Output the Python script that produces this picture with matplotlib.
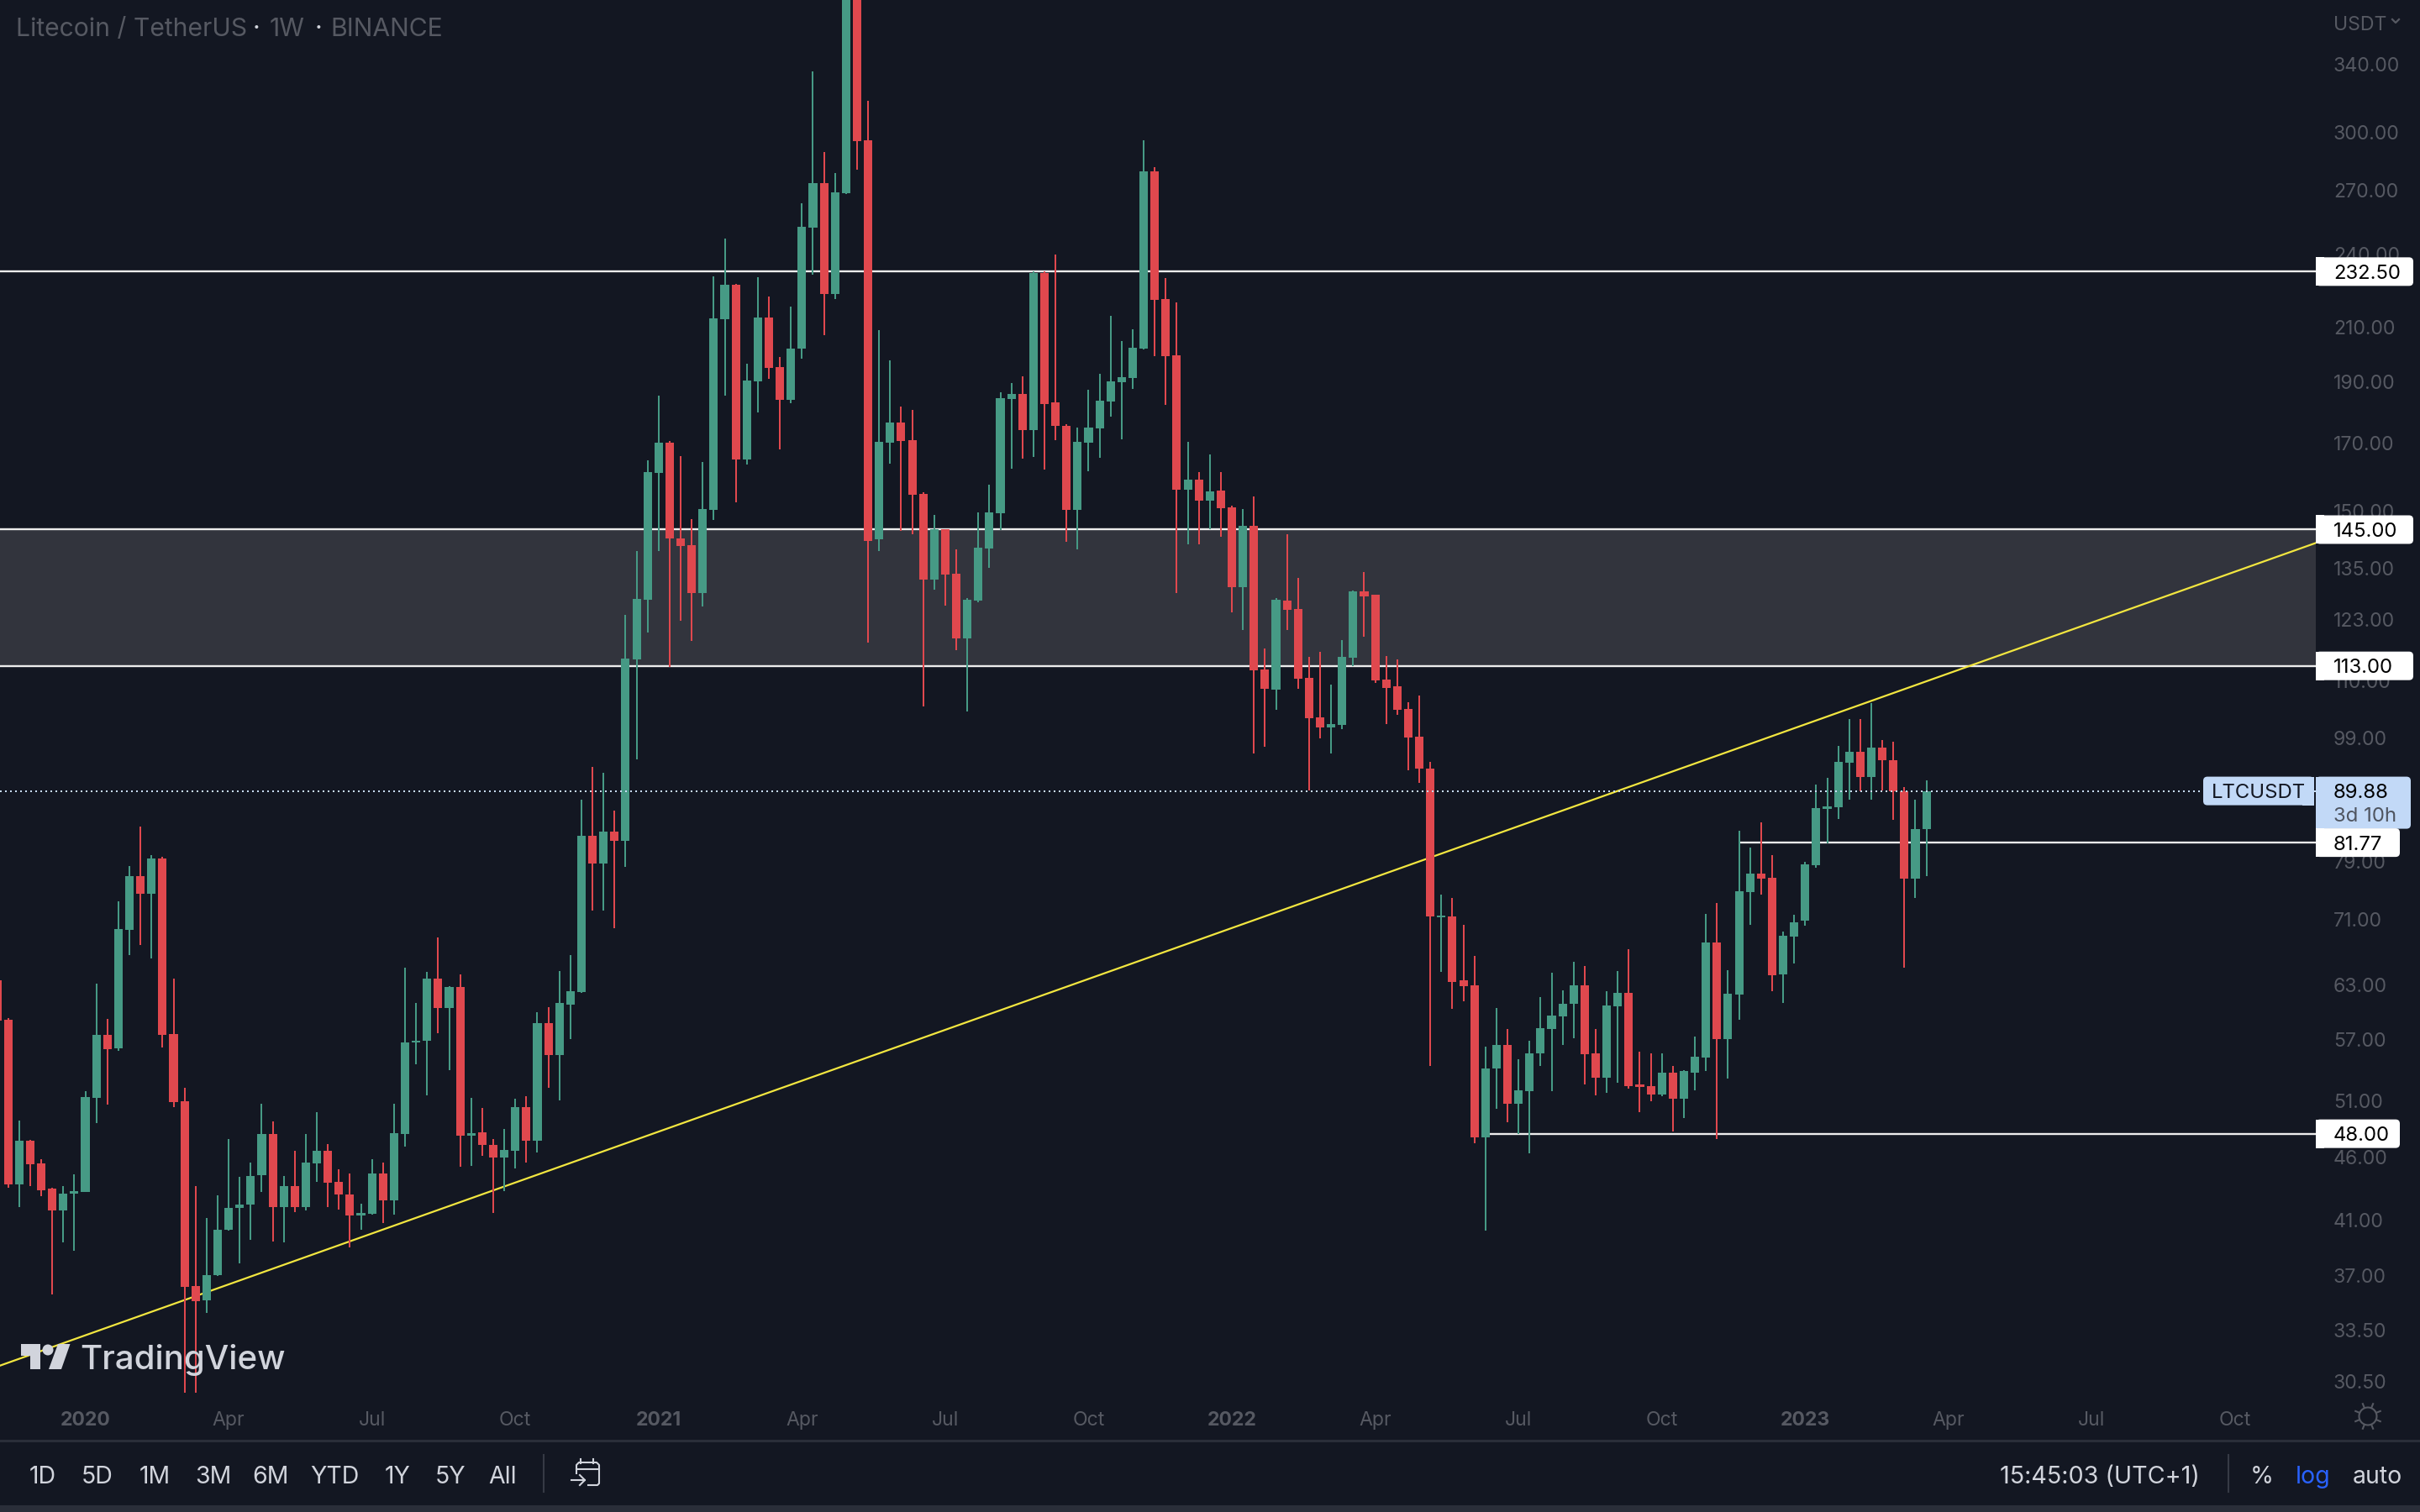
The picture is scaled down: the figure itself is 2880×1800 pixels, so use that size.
import numpy as np
import matplotlib
matplotlib.use("Agg")
import matplotlib.pyplot as plt
from matplotlib.patches import Rectangle, FancyBboxPatch, Polygon, Circle

plt.rcParams['font.family'] = ['Inter', 'DejaVu Sans']

# weekly candles, LTCUSDT
opens = [63.56, 59.15, 43.74, 47.38, 45.45, 43.43, 41.73, 42.99, 43.15, 51.28,
         57.51, 56.13, 69.74, 76.92, 74.48, 79.43, 57.60, 50.92, 36.34, 35.36,
         37.04, 40.25, 41.88, 42.14, 44.47, 47.98, 41.95, 43.60, 41.99, 45.49,
         46.55, 43.95, 42.96, 41.30, 41.48, 44.64, 42.52, 47.94, 56.71, 56.88,
         63.77, 60.46, 62.83, 47.80, 48.13, 47.06, 45.92, 46.55, 50.41, 47.42,
         58.79, 55.47, 60.78, 62.18, 82.8, 78.7, 83.4, 82.0, 114.4, 127.5,
         160.9, 170.0, 142.7, 140.9, 129.1, 150.3, 213.0, 226.8, 164.9, 190.1,
         213.7, 195.2, 184.0, 201.9, 251.8, 273.3, 223.3, 268.3, 395, 295.6,
         142.4, 170.0, 176.3, 170.7, 154.8, 132.3, 145.0, 133.7, 118.8, 127.4,
         140.0, 149.3, 184.2, 185.8, 173.9, 231.8, 183.1, 175.4, 150.4, 170.0,
         174.5, 183.3, 189.9, 191.4, 201.8, 279.3, 221.1, 199.5, 156.0, 159.0,
         153.0, 155.7, 151.1, 130.5, 145.9, 112.3, 108.2, 127.4, 125.4, 110.5,
         102.9, 100.9, 101.5, 114.7, 129.5, 128.7, 110.2, 108.8, 104.5, 99.3,
         93.6, 71.3, 71.45, 63.6, 63.0, 47.7, 54.1, 56.5, 50.7, 51.9,
         55.6, 58.1, 59.5, 60.9, 63.0, 55.6, 53.2, 60.6, 62.1, 52.5,
         52.4, 51.6, 53.7, 51.2, 53.7, 55.2, 68.1, 57.1, 61.9, 74.7,
         77.3, 76.7, 64.2, 68.9, 70.9, 78.5, 87.0, 87.3, 94.7, 96.5,
         92.2, 97.3, 95.1, 89.88, 76.5, 83.8]
highs = [64.0, 59.29, 49.20, 47.45, 45.81, 43.50, 43.64, 44.54, 51.89, 63.17,
         59.25, 73.44, 78.32, 84.18, 79.93, 79.68, 63.77, 52.21, 43.60, 41.14,
         42.89, 47.53, 44.36, 45.52, 50.72, 49.09, 44.43, 46.55, 47.98, 49.94,
         47.09, 44.99, 44.64, 42.25, 45.81, 45.52, 50.72, 65.04, 60.98, 64.53,
         68.76, 62.91, 64.22, 51.24, 50.33, 47.53, 48.44, 51.16, 51.40, 59.94,
         60.51, 64.63, 66.53, 88.43, 93.9, 92.9, 86.7, 124.0, 139.4, 164.7,
         185.3, 170.5, 165.9, 147.9, 164.2, 230.5, 246.9, 227.2, 196.4, 230.2,
         222.3, 198.9, 218.0, 263.6, 335.5, 289.4, 278.4, 415, 402, 317.9,
         208.9, 197.5, 181.7, 180.6, 155.3, 148.9, 145.0, 139.9, 128.0, 149.6,
         157.4, 186.4, 189.6, 192.0, 232.5, 232.5, 239.9, 175.8, 174.8, 187.3,
         192.9, 214.4, 204.8, 209.3, 295.8, 281.4, 229.9, 219.8, 170.2, 161.1,
         166.5, 161.1, 151.5, 150.6, 154.0, 116.6, 127.9, 143.7, 132.7, 114.9,
         116.0, 109.2, 118.5, 129.7, 134.2, 128.7, 115.0, 114.3, 105.8, 107.1,
         94.8, 74.3, 73.85, 70.3, 66.5, 56.3, 60.4, 58.1, 55.0, 56.9,
         61.6, 64.4, 62.4, 65.7, 65.2, 58.1, 62.3, 64.6, 67.3, 55.8,
         55.6, 55.6, 54.3, 53.9, 57.3, 71.8, 73.2, 64.7, 83.6, 81.0,
         84.8, 79.9, 69.5, 71.7, 79.0, 91.0, 92.0, 97.6, 102.5, 102.5,
         105.5, 98.7, 98.3, 90.5, 88.5, 91.7]
lows = [58.8, 43.47, 41.99, 43.64, 42.79, 35.76, 39.32, 38.73, 43.12, 48.93,
        50.60, 55.82, 66.58, 67.85, 66.12, 56.17, 50.37, 29.7, 29.7, 34.57,
        37.0, 40.2, 37.89, 39.50, 43.12, 39.39, 39.32, 41.60, 41.69, 43.98,
        41.95, 41.76, 38.99, 40.25, 41.4, 40.79, 41.37, 46.87, 54.47, 51.52,
        57.73, 53.89, 45.18, 45.25, 46.11, 41.55, 43.19, 45.03, 45.56, 46.36,
        52.17, 51.04, 57.06, 62.09, 72.2, 72.2, 69.9, 78.2, 95.2, 120.1,
        139.4, 112.7, 122.7, 118.2, 125.9, 147.6, 185.3, 152.5, 163.3, 179.6,
        191.2, 167.8, 182.7, 198.1, 231.1, 207.0, 221.2, 268.0, 280.1, 118.0,
        139.5, 163.6, 144.6, 143.7, 104.9, 129.9, 126.1, 116.3, 103.9, 126.9,
        135.2, 144.9, 162.2, 165.1, 165.5, 161.9, 170.7, 141.8, 139.9, 161.3,
        165.3, 178.4, 171.1, 187.7, 201.5, 199.2, 182.1, 129.1, 141.2, 141.2,
        145.0, 143.1, 124.6, 120.7, 96.3, 97.5, 104.3, 120.7, 108.4, 90.0,
        99.0, 96.2, 100.7, 113.0, 119.1, 109.6, 101.6, 103.3, 93.4, 91.2,
        54.3, 64.5, 60.3, 61.2, 47.2, 40.2, 50.2, 49.0, 48.0, 46.3,
        54.3, 51.9, 56.5, 57.2, 52.5, 51.5, 51.7, 52.7, 52.1, 49.9,
        50.9, 51.4, 48.2, 49.4, 52.0, 53.8, 47.5, 53.1, 59.1, 70.4,
        74.3, 62.3, 61.0, 65.5, 70.2, 78.1, 81.7, 85.4, 88.5, 89.8,
        88.4, 90.0, 85.3, 65.0, 73.9, 76.9]
closes = [59.05, 43.74, 47.38, 45.42, 43.29, 41.73, 43.03, 43.19, 51.32, 57.51,
          56.04, 69.79, 76.92, 74.48, 79.43, 57.51, 50.88, 36.26, 35.31, 37.07,
          40.28, 41.92, 42.14, 44.43, 47.98, 41.95, 43.60, 41.99, 45.52, 46.55,
          43.91, 42.92, 41.30, 41.51, 44.64, 42.52, 48.06, 56.75, 56.92, 63.77,
          60.46, 62.78, 47.80, 48.06, 47.02, 45.92, 46.62, 50.41, 47.42, 58.79,
          55.47, 60.98, 62.27, 82.80, 78.7, 83.4, 82.0, 114.5, 127.7, 161.2,
          170.0, 142.6, 140.7, 129.1, 150.6, 213.5, 226.8, 164.9, 190.5, 213.7,
          194.8, 184.0, 201.9, 252.4, 273.3, 223.3, 268.8, 395, 295.3, 142.1,
          170.2, 176.3, 170.5, 154.5, 132.3, 145.0, 133.6, 118.8, 127.5, 140.3,
          149.6, 184.4, 185.8, 173.9, 231.8, 182.5, 175.2, 150.4, 170.2, 174.8,
          183.6, 190.2, 191.7, 202.1, 279.3, 220.8, 199.2, 156.0, 159.0, 153.0,
          155.4, 150.8, 130.5, 145.9, 112.1, 108.4, 127.6, 125.2, 110.4, 102.7,
          100.9, 101.6, 114.9, 129.5, 128.3, 110.0, 108.6, 104.3, 99.1, 93.7,
          71.4, 71.6, 63.4, 62.9, 47.7, 54.1, 56.5, 50.7, 52.0, 55.6,
          58.2, 59.6, 60.9, 63.0, 55.5, 53.2, 60.7, 62.1, 52.4, 52.3,
          51.6, 53.7, 51.2, 53.8, 55.3, 68.1, 57.1, 62.0, 74.8, 77.3,
          76.6, 64.1, 69.0, 70.7, 78.6, 87.1, 87.4, 94.8, 96.5, 92.2,
          97.3, 95.1, 89.8, 76.5, 83.8, 89.88]

price_ticks = [340, 300, 270, 240, 210, 190, 170, 150, 135, 123, 110, 99,
               79, 71, 63, 57, 51, 46, 41, 37, 33.5, 30.5]
week_ticks = [8, 21, 34, 47, 60, 73, 86, 99, 112, 125, 138, 151, 164, 177, 190, 203]
week_labels = ['2020', 'Apr', 'Jul', 'Oct', '2021', 'Apr', 'Jul', 'Oct',
               '2022', 'Apr', 'Jul', 'Oct', '2023', 'Apr', 'Jul', 'Oct']

levels = [232.5, 145.0, 113.0, 81.77, 48.0]
level_starts = [-1, -1, -1, 158, 135]
last_price = 89.88
trend_prices = [31.4, 141.5]

BG = '#131722'
GREEN = '#469a85'
RED = '#e0484e'
DIM = '#565962'
LIGHT = '#d1d4dc'
BLUE_TAG = '#c2d9f7'
XMIN, XMAX = 0.26, 210.32

fig = plt.figure(figsize=(28.8, 18), dpi=100, facecolor=BG)
ax = fig.add_axes([0, 142 / 1800, 2756 / 2880, 1658 / 1800], facecolor=BG)
ax.set_yscale('log')
ax.set_xlim(XMIN, XMAX)
ax.set_ylim(29.88, 382.2)
for s in ax.spines.values():
    s.set_visible(False)

# zone and drawings sit under the candles
ax.axhspan(levels[2], levels[1], color='#32343d', lw=0, zorder=1)
for lev, start in zip(levels, level_starts):
    ax.hlines(lev, max(start, XMIN), XMAX, color='#ececec', lw=1.7, zorder=2)
ax.plot([XMIN, XMAX], trend_prices, color='#f2e640', lw=1.6, zorder=2)

idx = np.arange(len(opens))
o = np.array(opens)
h = np.array(highs)
l = np.array(lows)
c = np.array(closes)
cols = np.where(c >= o, GREEN, RED)
ax.vlines(idx, l, h, colors=cols, lw=1.44, zorder=3)
ax.bar(idx, np.abs(c - o), bottom=np.minimum(o, c), width=0.77, color=cols, lw=0, zorder=4)

ax.hlines(last_price, XMIN, XMAX, color='#c8dcf5', lw=1.44, linestyles=(0, (1, 2)), zorder=5)

ax.minorticks_off()
ax.yaxis.tick_right()
ax.set_yticks(price_ticks)
ax.set_yticklabels(['%.2f' % p for p in price_ticks])
ax.tick_params(axis='y', which='both', length=0, pad=15, labelsize=16.6, labelcolor=DIM)
ax.yaxis.set_minor_locator(matplotlib.ticker.NullLocator())
for t in ax.get_yticklabels():
    t.set_va('center_baseline')
ax.set_xticks(week_ticks)
ax.set_xticklabels(week_labels)
ax.tick_params(axis='x', length=0, pad=15.5, labelsize=16.6, labelcolor=DIM)
for t in ax.get_xticklabels():
    if t.get_text().isdigit():
        t.set_fontweight('bold')

# chrome overlay in figure pixels
ui = fig.add_axes([0, 0, 1, 1], facecolor='none')
ui.set_xlim(0, 2880)
ui.set_ylim(1800, 0)
ui.axis('off')


def price_y(p):
    return 1800 - ax.transData.transform((1, p))[1]


def tag(x0, x1, y0, y1, color, z=6):
    ui.add_patch(FancyBboxPatch((x0, y0), x1 - x0, y1 - y0, boxstyle='round,pad=0,rounding_size=5',
                                fc=color, ec='none', zorder=z))
    ui.add_patch(Rectangle((x0, y0), 10, y1 - y0, fc=color, ec='none', zorder=z))


# price tags
for lev, right in zip(levels, [2872, 2872, 2872, 2856, 2856]):
    yy = price_y(lev)
    tag(2756, right, yy - 17, yy + 17, 'white')
    ui.text(2777, yy, '%.2f' % lev, color='black', fontsize=17.2, va='center_baseline', zorder=7)

yy = price_y(last_price)
tag(2756, 2869, yy - 17, yy + 45, BLUE_TAG, z=5.5)
ui.add_patch(FancyBboxPatch((2622, yy - 17), 132, 34, boxstyle='round,pad=0,rounding_size=5',
                            fc=BLUE_TAG, ec='none', zorder=6))
ui.add_patch(Rectangle((2740, yy - 17), 14, 34, fc=BLUE_TAG, ec='none', zorder=6))
ui.text(2688, yy, 'LTCUSDT', color='#131722', fontsize=17.2, ha='center', va='center_baseline', zorder=7)
ui.text(2777, yy, '%.2f' % last_price, color='black', fontsize=17.2, va='center_baseline', zorder=7)
ui.text(2777, yy + 28, '3d 10h', color='#4f5560', fontsize=17.2, va='center_baseline', zorder=7)

# title
ui.text(19, 43, 'Litecoin / TetherUS', color=DIM, fontsize=21.7, va='baseline')
ui.text(321, 43, '1W', color=DIM, fontsize=21.7, va='baseline')
ui.text(393, 43, 'BINANCE', color=DIM, fontsize=21.7, va='baseline')
ui.text(305, 43, '·', color=LIGHT, fontsize=21.5, ha='center', va='baseline')
ui.text(379, 43, '·', color=LIGHT, fontsize=21.5, ha='center', va='baseline')

# currency selector
ui.text(2777, 27, 'USDT', color=DIM, fontsize=16.6, va='center_baseline')
ui.plot([2847, 2851, 2855], [23, 27, 23], color=DIM, lw=1.6)

# logo
ui.add_patch(Polygon([(24.5, 1600), (48, 1600), (48, 1630), (36, 1630), (36, 1614), (24.5, 1614)],
                     fc=LIGHT, ec='none', zorder=6))
ui.add_patch(Circle((57, 1607), 6.5, fc=LIGHT, ec='none', zorder=6))
ui.add_patch(Polygon([(69, 1600), (83.5, 1600), (73, 1630), (58, 1630)], fc=LIGHT, ec='none', zorder=6))
ui.text(95, 1630, 'TradingView', color=LIGHT, fontsize=29, fontweight=500, va='baseline', zorder=6)

# bottom bar
ui.add_patch(Rectangle((0, 1713.5), 2880, 3, fc='#2a2e39', ec='none'))
ui.add_patch(Rectangle((0, 1792), 2880, 8, fc='#2a2e39', ec='none'))
for lab, xc in zip(['1D', '5D', '1M', '3M', '6M', 'YTD', '1Y', '5Y', 'All'],
                   [51, 116, 184, 254, 322, 398, 473, 536, 598]):
    ui.text(xc, 1755, lab, color=LIGHT, fontsize=20.5, ha='center', va='center_baseline')
ui.plot([647, 647], [1732, 1776], color='#363a45', lw=1.5)
ui.plot([2652, 2652], [1732, 1776], color='#363a45', lw=1.5)

# calendar icon
ui.plot([686, 686, 689, 710, 713, 713, 711, 700], [1754, 1744, 1741, 1741, 1744, 1766, 1768, 1768], color=LIGHT, lw=1.5)
ui.plot([686, 713], [1749, 1749], color=LIGHT, lw=1.5)
ui.plot([691, 691], [1737, 1742], color=LIGHT, lw=1.5)
ui.plot([706, 706], [1737, 1742], color=LIGHT, lw=1.5)
ui.plot([680, 696], [1762, 1762], color=LIGHT, lw=1.5)
ui.plot([690, 696, 690], [1756, 1762, 1768], color=LIGHT, lw=1.5)

ui.text(2499, 1755, '15:45:03 (UTC+1)', color=LIGHT, fontsize=20.7, ha='center', va='center_baseline')
ui.text(2692, 1755, '%', color=LIGHT, fontsize=20.5, ha='center', va='center_baseline')
ui.text(2753, 1755, 'log', color='#2962ff', fontsize=20.5, ha='center', va='center_baseline')
ui.text(2829, 1755, 'auto', color=LIGHT, fontsize=20.5, ha='center', va='center_baseline')

# settings sun
ui.add_patch(Circle((2818, 1686), 10.5, fc='none', ec=DIM, lw=1.5))
for a in np.arange(8) * np.pi / 4 + np.pi / 8:
    ui.plot([2818 + 11 * np.cos(a), 2818 + 16 * np.cos(a)], [1686 + 11 * np.sin(a), 1686 + 16 * np.sin(a)],
            color=DIM, lw=1.5)

fig.savefig('out.png', dpi=100, facecolor=BG)
